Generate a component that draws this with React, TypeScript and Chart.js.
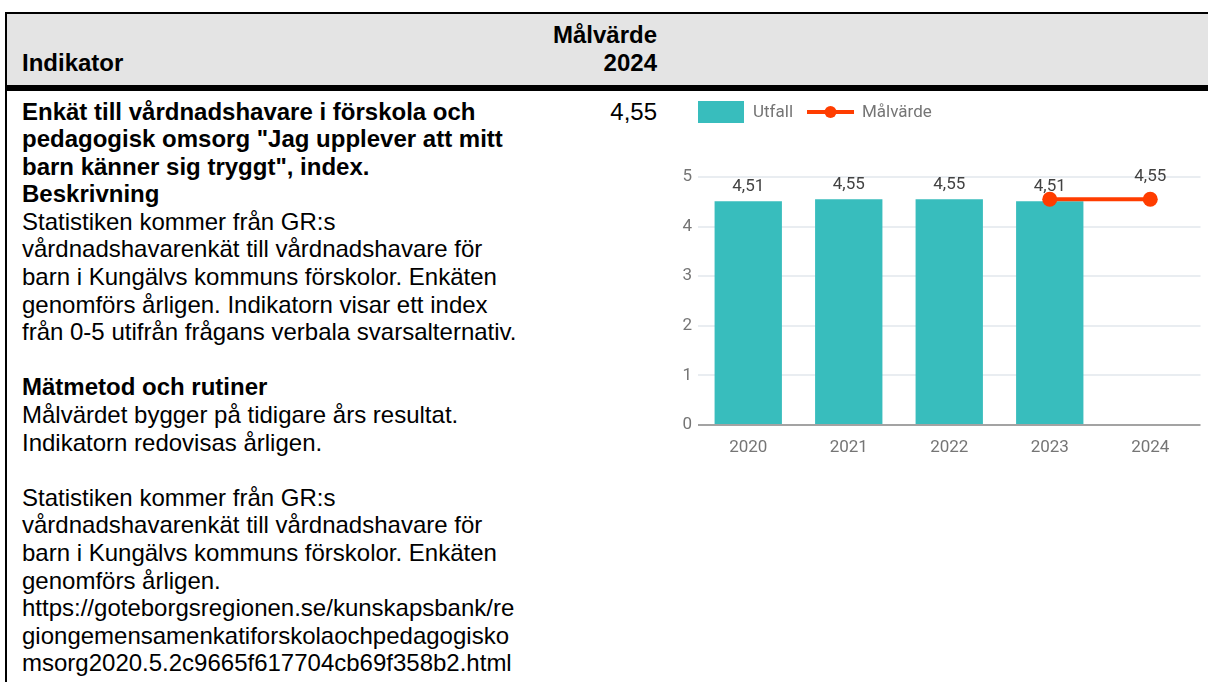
import React, { useEffect, useRef } from "react";
import { Chart, registerables } from "chart.js";

Chart.register(...registerables);

// ---- Data ----
const years = ["2020", "2021", "2022", "2023", "2024"];
const utfall: (number | null)[] = [4.51, 4.55, 4.55, 4.51, null];
const malvarde: (number | null)[] = [null, null, null, 4.55, 4.55];
const seriesLabels = ["Utfall", "Målvärde"];
const seriesColors = ["#38bdbd", "#ff3d00"];
const yMin = 0;
const yMax = 5;
const yStep = 1;
const targetValue = "4,55";

// ---- Text ----
const headerIndicator = "Indikator";
const headerTarget = ["Målvärde", "2024"];
const bodyLines: { t: string; b?: boolean }[] = [
  { t: "Enkät till vårdnadshavare i förskola och", b: true },
  { t: 'pedagogisk omsorg "Jag upplever att mitt', b: true },
  { t: 'barn känner sig tryggt", index.', b: true },
  { t: "Beskrivning", b: true },
  { t: "Statistiken kommer från GR:s" },
  { t: "vårdnadshavarenkät till vårdnadshavare för" },
  { t: "barn i Kungälvs kommuns förskolor. Enkäten" },
  { t: "genomförs årligen. Indikatorn visar ett index" },
  { t: "från 0-5 utifrån frågans verbala svarsalternativ." },
  { t: "" },
  { t: "Mätmetod och rutiner", b: true },
  { t: "Målvärdet bygger på tidigare års resultat." },
  { t: "Indikatorn redovisas årligen." },
  { t: "" },
  { t: "Statistiken kommer från GR:s" },
  { t: "vårdnadshavarenkät till vårdnadshavare för" },
  { t: "barn i Kungälvs kommuns förskolor. Enkäten" },
  { t: "genomförs årligen." },
  { t: "https://goteborgsregionen.se/kunskapsbank/re" },
  { t: "giongemensamenkatiforskolaochpedagogisko" },
  { t: "msorg2020.5.2c9665f617704cb69f358b2.html" },
];

const fmt = (v: number) => v.toFixed(2).replace(".", ",");
const TEXT_FONT = '"Liberation Sans", Arial, sans-serif';
const CHART_FONT_SIZE = 17;

const legendPlugin = {
  id: "customLegend",
  afterDraw(chart: any) {
    const ctx = chart.ctx as CanvasRenderingContext2D;
    const yc = 17;
    let x = chart.chartArea.left;
    ctx.save();
    ctx.font = `${CHART_FONT_SIZE}px Roboto`;
    ctx.textBaseline = "middle";
    ctx.textAlign = "left";
    chart.data.datasets.forEach((ds: any) => {
      if (ds.type === "line") {
        ctx.strokeStyle = ds.borderColor;
        ctx.lineWidth = 4;
        ctx.beginPath();
        ctx.moveTo(x, yc);
        ctx.lineTo(x + 47, yc);
        ctx.stroke();
        ctx.fillStyle = ds.backgroundColor;
        ctx.beginPath();
        ctx.arc(x + 23.5, yc, 6, 0, Math.PI * 2);
        ctx.fill();
        x += 47 + 8;
      } else {
        ctx.fillStyle = ds.backgroundColor;
        ctx.fillRect(x, yc - 11, 46, 22);
        x += 46 + 9;
      }
      ctx.fillStyle = "#757575";
      ctx.fillText(ds.label, x, yc + 1);
      x += ctx.measureText(ds.label).width + 14;
    });
    ctx.restore();
  },
};

const labelPlugin = {
  id: "valueLabels",
  afterDatasetDraw(chart: any, args: any) {
    const ds = chart.data.datasets[args.index];
    if (ds.type === "line") return;
    const ctx = chart.ctx as CanvasRenderingContext2D;
    ctx.save();
    ctx.font = `${CHART_FONT_SIZE}px Roboto`;
    ctx.fillStyle = "#424242";
    ctx.textAlign = "center";
    ctx.textBaseline = "alphabetic";
    args.meta.data.forEach((el: any, i: number) => {
      const v = ds.data[i];
      if (v == null) return;
      ctx.fillText(fmt(v), el.x, el.y - 10);
    });
    ctx.restore();
  },
  afterDatasetsDraw(chart: any) {
    const ctx = chart.ctx as CanvasRenderingContext2D;
    ctx.save();
    ctx.font = `${CHART_FONT_SIZE}px Roboto`;
    ctx.fillStyle = "#424242";
    ctx.textAlign = "center";
    ctx.textBaseline = "alphabetic";
    chart.data.datasets.forEach((ds: any, di: number) => {
      if (ds.type !== "line") return;
      const meta = chart.getDatasetMeta(di);
      meta.data.forEach((el: any, i: number) => {
        const v = ds.data[i];
        if (v == null) return;
        if (utfall[i] != null) return; // avoid overlapping the bar label
        ctx.fillText(fmt(v), el.x, el.y - 18);
      });
    });
    ctx.restore();
  },
};

function ChartBox() {
  const ref = useRef<HTMLCanvasElement | null>(null);
  useEffect(() => {
    if (!ref.current) return;
    Chart.defaults.font.family = "Roboto";
    const chart = new Chart(ref.current, {
      type: "bar",
      data: {
        labels: years,
        datasets: [
          {
            type: "bar",
            label: seriesLabels[0],
            data: utfall,
            backgroundColor: seriesColors[0],
            barPercentage: 0.67,
            categoryPercentage: 1,
            order: 1,
          } as any,
          {
            type: "line",
            label: seriesLabels[1],
            data: malvarde,
            borderColor: seriesColors[1],
            backgroundColor: seriesColors[1],
            borderWidth: 4,
            pointRadius: 7.5,
            pointHoverRadius: 7.5,
            pointBorderWidth: 0,
            spanGaps: false,
            order: 0,
          } as any,
        ],
      },
      options: {
        responsive: false,
        animation: false,
        layout: { padding: { top: 82, right: 0, bottom: 0, left: 0 } },
        plugins: {
          legend: { display: false },
          tooltip: { enabled: false },
        },
        scales: {
          x: {
            grid: { display: false },
            border: { display: false },
            ticks: { color: "#757575", font: { size: CHART_FONT_SIZE }, padding: 5 },
            afterFit: (s: any) => {
              s.height = 45;
            },
          },
          y: {
            min: yMin,
            max: yMax,
            ticks: {
              stepSize: yStep,
              color: "#757575",
              font: { size: CHART_FONT_SIZE },
              padding: 6,
            },
            grid: {
              drawTicks: false,
              lineWidth: 2,
              color: (c: any) => (c.tick && c.tick.value === 0 ? "#a3a3a3" : "#e9edf1"),
            },
            border: { display: false },
            afterFit: (s: any) => {
              s.width = 38;
            },
          },
        },
      },
      plugins: [legendPlugin, labelPlugin],
    });
    return () => chart.destroy();
  }, []);
  return (
    <canvas
      ref={ref}
      width={548}
      height={375}
      style={{ position: "absolute", left: 660, top: 95, width: 548, height: 375 }}
    />
  );
}

export default function App() {
  useEffect(() => {
    document.documentElement.style.overflow = "hidden";
    document.body.style.overflow = "hidden";
  }, []);
  return (
    <div
      style={{
        position: "absolute",
        left: 0,
        top: 0,
        width: 1208,
        height: 682,
        overflow: "hidden",
        background: "#fff",
        fontFamily: TEXT_FONT,
        color: "#000",
      }}
    >
      {/* header background */}
      <div style={{ position: "absolute", left: 7, top: 14, width: 1201, height: 71, background: "#e4e4e4" }} />
      {/* top border */}
      <div style={{ position: "absolute", left: 5, top: 12, width: 1203, height: 2, background: "#000" }} />
      {/* header bottom thick line */}
      <div style={{ position: "absolute", left: 5, top: 85, width: 1203, height: 6, background: "#000" }} />
      {/* left border */}
      <div style={{ position: "absolute", left: 5, top: 12, width: 2, height: 670, background: "#000" }} />

      <div
        style={{
          position: "absolute",
          left: 22,
          top: 49.4,
          fontSize: 24,
          lineHeight: "28px",
          fontWeight: "bold",
          whiteSpace: "nowrap",
        }}
      >
        {headerIndicator}
      </div>
      <div
        style={{
          position: "absolute",
          right: 1208 - 657,
          top: 21.2,
          fontSize: 24,
          lineHeight: "28px",
          fontWeight: "bold",
          textAlign: "right",
          whiteSpace: "nowrap",
        }}
      >
        {headerTarget.map((t, i) => (
          <div key={i}>{t}</div>
        ))}
      </div>

      <div
        style={{
          position: "absolute",
          left: 22,
          top: 97.5,
          fontSize: 24,
          lineHeight: "27.6px",
          whiteSpace: "nowrap",
        }}
      >
        {bodyLines.map((l, i) => (
          <div key={i} style={{ fontWeight: l.b ? "bold" : "normal", height: 27.6 }}>
            {l.t}
          </div>
        ))}
      </div>

      <div
        style={{
          position: "absolute",
          right: 1208 - 657,
          top: 97.5,
          fontSize: 24,
          lineHeight: "27.6px",
          textAlign: "right",
          whiteSpace: "nowrap",
        }}
      >
        {targetValue}
      </div>

      <ChartBox />
    </div>
  );
}
